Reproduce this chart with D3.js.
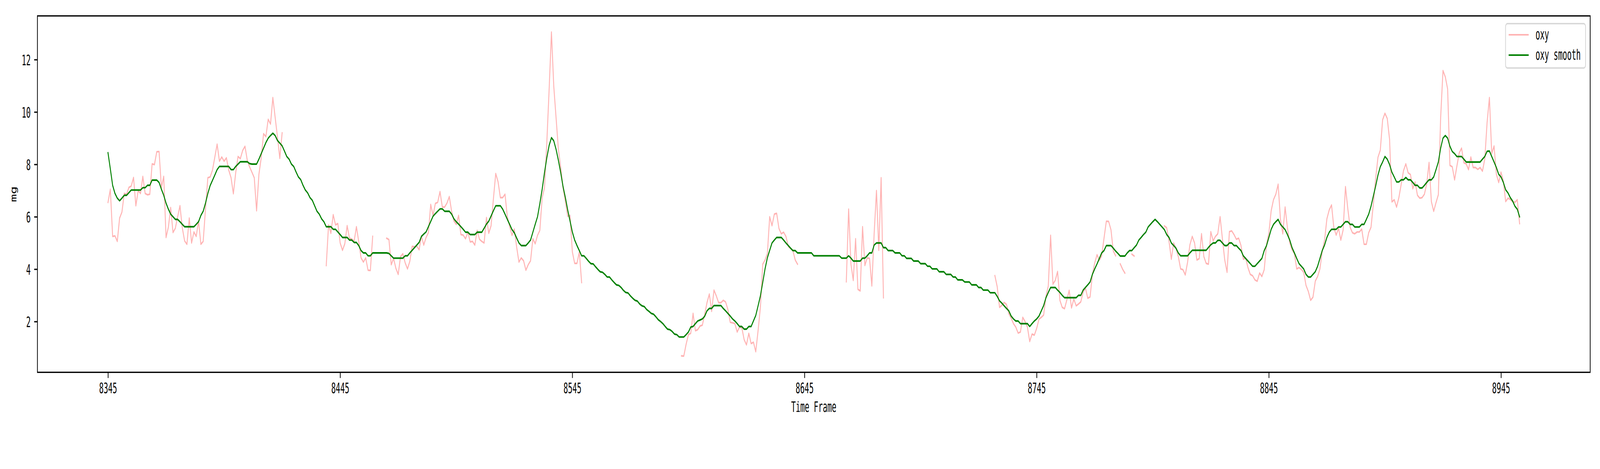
<!DOCTYPE html>
<html>
<head>
<meta charset="utf-8">
<script src="https://cdn.jsdelivr.net/npm/d3@7"></script>
<style>
  html, body { margin: 0; padding: 0; background: #ffffff; width: 100%; height: 100%; overflow: hidden; }
  svg { display: block; width: 100vw; height: 100vh; }
</style>
</head>
<body>
<svg id="chart" viewBox="0 0 7200 1200" preserveAspectRatio="none"></svg>
<script>
// ---------------- data ----------------
const frameStart = 8345;           // first time frame
const seriesNames = ["oxy", "oxy smooth"];
const xTickValues = [8345, 8445, 8545, 8645, 8745, 8845, 8945];
const yTickValues = [2, 4, 6, 8, 10, 12];
const yLabel = "mg";
const xLabel = "Time Frame";

// raw oxygen reading, one value per frame (null = missing)
const oxy = [
  /*8345*/ 6.55,7.05,5.25,5.27,5.06,5.95,6.18,6.89,6.86,7.12,
  /*8355*/ 7.17,7.5,6.42,7.0,6.89,7.54,6.89,6.84,6.86,8.02,
  /*8365*/ 7.99,8.48,8.49,7.1,7.54,5.21,5.6,6.35,5.4,5.56,
  /*8375*/ 6.0,6.42,5.58,5.08,4.95,5.95,5.0,5.42,5.25,5.84,
  /*8385*/ 4.95,5.06,6.31,7.49,7.52,7.78,8.27,8.77,8.12,8.28,
  /*8395*/ 8.12,8.25,7.78,7.49,6.88,7.68,8.3,8.22,8.53,8.69,
  /*8405*/ 8.15,7.9,7.7,7.49,6.23,7.62,8.25,9.17,9.06,9.72,
  /*8415*/ 9.54,10.55,9.79,9.04,8.23,9.2,null,null,null,null,
  /*8425*/ null,null,null,null,null,null,null,null,null,null,
  /*8435*/ null,null,null,null,4.14,5.69,5.37,6.08,5.69,5.74,
  /*8445*/ 5.0,4.72,4.97,5.66,5.18,5.15,5.06,5.62,5.05,4.43,
  /*8455*/ 4.27,4.43,3.96,3.95,5.25,null,null,null,null,null,
  /*8465*/ 5.18,5.13,4.17,4.41,4.03,3.8,4.48,4.59,4.24,4.01,
  /*8475*/ 4.3,4.87,4.85,4.88,4.74,5.27,4.92,5.21,5.39,6.47,
  /*8485*/ 6.05,6.51,6.55,6.96,6.37,6.37,6.52,6.77,6.21,5.84,
  /*8495*/ 5.71,6.05,5.32,5.3,5.16,5.42,5.04,5.06,4.92,5.48,
  /*8505*/ 5.14,5.06,5.0,5.97,5.37,5.66,6.68,7.65,7.34,6.73,
  /*8515*/ 6.73,6.86,6.0,5.63,5.29,5.53,4.85,4.27,4.43,4.32,
  /*8525*/ 3.96,4.17,4.32,5.16,4.97,5.29,5.48,6.73,7.1,8.83,
  /*8535*/ 10.85,13.05,10.98,9.77,8.57,7.88,7.1,6.58,6.02,6.05,
  /*8545*/ 4.66,4.22,4.22,4.66,3.49,null,null,null,null,null,
  /*8555*/ null,null,null,null,null,null,null,null,null,null,
  /*8565*/ null,null,null,null,null,null,null,null,null,null,
  /*8575*/ null,null,null,null,null,null,null,null,null,null,
  /*8585*/ null,null,null,null,null,null,null,0.69,0.68,1.13,
  /*8595*/ 1.5,1.55,2.31,1.65,1.69,1.83,1.86,2.28,2.72,3.05,
  /*8605*/ 2.39,3.2,2.98,2.72,2.72,2.81,2.75,2.46,1.97,1.95,
  /*8615*/ 1.92,1.6,1.79,1.76,1.31,1.11,1.55,1.16,1.21,0.85,
  /*8625*/ 1.65,2.54,4.19,4.35,4.59,6.0,5.66,6.1,6.13,5.55,
  /*8635*/ 5.35,5.41,5.25,4.87,4.79,4.7,4.35,4.19,null,null,
  /*8645*/ null,null,null,null,null,null,null,null,null,null,
  /*8655*/ null,null,null,null,null,null,null,null,3.52,6.29,
  /*8665*/ 4.19,3.57,5.16,3.23,3.17,5.62,4.14,4.43,4.41,3.36,
  /*8675*/ 5.37,7.0,4.72,7.49,2.91,null,null,null,null,null,
  /*8685*/ null,null,null,null,null,null,null,null,null,null,
  /*8695*/ null,null,null,null,null,null,null,null,null,null,
  /*8705*/ null,null,null,null,null,null,null,null,null,null,
  /*8715*/ null,null,null,null,null,null,null,null,null,null,
  /*8725*/ null,null,3.75,3.33,2.54,2.62,2.73,2.65,2.3,2.13,
  /*8735*/ 1.92,1.79,1.56,1.6,2.16,2.0,1.79,1.24,1.52,1.48,
  /*8745*/ 1.74,2.09,2.16,2.25,2.96,3.36,5.29,3.43,3.57,3.91,
  /*8755*/ 2.81,2.54,2.49,2.83,3.19,2.52,2.86,2.6,2.67,2.75,
  /*8765*/ 3.12,3.28,2.89,2.94,3.8,4.24,4.55,4.34,4.51,5.18,
  /*8775*/ 5.83,5.82,5.5,4.69,4.51,null,4.2,4.0,3.85,null,
  /*8785*/ null,4.57,4.5,null,null,null,null,null,null,null,
  /*8795*/ null,null,null,null,null,5.65,5.58,5.06,4.38,5.0,
  /*8805*/ 4.79,4.48,4.01,3.98,3.78,4.27,4.93,5.25,5.0,4.35,
  /*8815*/ 4.4,5.35,4.48,4.22,4.19,5.43,5.08,5.25,5.35,6.0,
  /*8825*/ 5.16,4.35,3.88,5.43,5.46,5.32,5.14,5.18,4.9,4.38,
  /*8835*/ 4.43,4.06,3.8,3.75,3.59,3.54,3.85,3.72,3.98,4.95,
  /*8845*/ 5.37,6.23,6.65,6.86,7.24,5.9,5.35,6.37,5.58,5.0,
  /*8855*/ 4.74,4.59,4.01,4.06,3.99,3.88,3.38,3.15,2.81,2.93,
  /*8865*/ 3.54,3.72,4.01,4.69,5.11,5.92,6.26,6.45,5.58,5.3,
  /*8875*/ 5.56,5.11,5.5,7.15,6.31,5.6,5.39,5.35,5.42,5.42,
  /*8885*/ 5.53,4.95,4.95,5.39,5.6,6.47,7.47,8.27,8.54,9.7,
  /*8895*/ 9.95,9.75,8.95,6.57,6.65,6.37,6.73,7.24,7.76,8.02,
  /*8905*/ 7.68,7.61,7.07,7.33,6.82,6.71,6.73,6.86,7.26,8.07,
  /*8915*/ 6.58,6.21,6.54,6.84,9.8,11.58,11.34,10.88,7.96,7.91,
  /*8925*/ 7.41,7.94,8.44,8.62,8.06,8.02,7.8,8.28,7.88,7.88,
  /*8935*/ 7.81,7.88,7.74,8.2,9.6,10.55,8.41,8.7,7.62,7.31,
  /*8945*/ 7.7,7.36,6.58,6.71,6.66,6.58,6.55,6.65,5.74
];

// smoothed oxygen, one value per frame
const oxySmooth = [
  /*8345*/ 8.44,7.83,7.2,6.89,6.71,6.61,6.71,6.82,6.82,6.92,
  /*8355*/ 7.02,7.02,7.02,7.02,7.02,7.11,7.11,7.2,7.2,7.4,
  /*8365*/ 7.4,7.4,7.31,7.05,6.82,6.52,6.29,6.1,6.0,5.9,
  /*8375*/ 5.9,5.81,5.71,5.62,5.62,5.62,5.62,5.62,5.71,5.81,
  /*8385*/ 6.05,6.21,6.52,6.89,7.19,7.39,7.59,7.8,7.92,7.92,
  /*8395*/ 7.92,7.92,7.92,7.8,7.8,7.92,8.01,8.1,8.1,8.1,
  /*8405*/ 8.1,8.03,8.01,8.01,8.01,8.2,8.41,8.62,8.83,9.0,
  /*8415*/ 9.1,9.19,9.1,8.91,8.81,8.71,8.51,8.3,8.2,8.01,
  /*8425*/ 7.92,7.71,7.52,7.42,7.2,7.02,6.91,6.73,6.63,6.42,
  /*8435*/ 6.21,6.1,5.92,5.81,5.62,5.62,5.62,5.52,5.52,5.42,
  /*8445*/ 5.32,5.21,5.21,5.21,5.11,5.11,5.02,5.02,4.9,4.71,
  /*8455*/ 4.62,4.62,4.51,4.51,4.62,4.62,4.62,4.62,4.62,4.62,
  /*8465*/ 4.62,4.6,4.51,4.42,4.42,4.42,4.42,4.42,4.51,4.51,
  /*8475*/ 4.62,4.72,4.82,4.92,5.02,5.25,5.34,5.42,5.62,5.82,
  /*8485*/ 6.02,6.12,6.21,6.3,6.3,6.21,6.21,6.21,6.1,5.92,
  /*8495*/ 5.81,5.72,5.62,5.52,5.41,5.41,5.32,5.32,5.32,5.41,
  /*8505*/ 5.41,5.41,5.56,5.72,5.83,6.03,6.23,6.42,6.42,6.42,
  /*8515*/ 6.29,6.1,5.9,5.71,5.51,5.39,5.19,5.0,4.9,4.9,
  /*8525*/ 4.9,5.0,5.11,5.41,5.71,6.0,6.5,7.05,7.68,8.25,
  /*8535*/ 8.72,9.02,8.9,8.57,8.15,7.68,7.15,6.73,6.26,5.84,
  /*8545*/ 5.42,5.11,4.9,4.71,4.51,4.51,4.41,4.3,4.21,4.2,
  /*8555*/ 4.09,3.99,3.9,3.88,3.8,3.7,3.7,3.59,3.49,3.4,
  /*8565*/ 3.38,3.3,3.19,3.11,3.09,2.98,2.89,2.81,2.78,2.67,
  /*8575*/ 2.6,2.57,2.46,2.39,2.31,2.28,2.18,2.07,2.0,1.92,
  /*8585*/ 1.81,1.71,1.69,1.62,1.52,1.5,1.41,1.41,1.41,1.5,
  /*8595*/ 1.6,1.79,1.81,1.92,2.02,2.06,2.1,2.2,2.41,2.5,
  /*8605*/ 2.5,2.61,2.61,2.61,2.61,2.5,2.41,2.31,2.21,2.1,
  /*8615*/ 2.02,1.92,1.81,1.81,1.71,1.71,1.81,1.81,2.02,2.23,
  /*8625*/ 2.6,2.98,3.49,4.01,4.43,4.72,5.0,5.11,5.21,5.21,
  /*8635*/ 5.21,5.11,5.0,4.9,4.8,4.71,4.71,4.62,4.62,4.62,
  /*8645*/ 4.62,4.62,4.62,4.62,4.51,4.51,4.51,4.51,4.51,4.51,
  /*8655*/ 4.51,4.51,4.51,4.51,4.51,4.51,4.42,4.42,4.42,4.51,
  /*8665*/ 4.42,4.31,4.31,4.31,4.31,4.42,4.42,4.51,4.62,4.62,
  /*8675*/ 4.92,5.0,5.0,5.0,4.82,4.82,4.71,4.71,4.71,4.62,
  /*8685*/ 4.62,4.62,4.51,4.51,4.41,4.41,4.41,4.31,4.31,4.31,
  /*8695*/ 4.21,4.21,4.21,4.11,4.11,4.01,4.01,4.01,3.9,3.9,
  /*8705*/ 3.9,3.8,3.8,3.8,3.7,3.7,3.59,3.59,3.59,3.51,
  /*8715*/ 3.51,3.51,3.4,3.4,3.4,3.3,3.3,3.2,3.2,3.2,
  /*8725*/ 3.1,3.1,3.1,2.96,2.79,2.7,2.6,2.5,2.41,2.21,
  /*8735*/ 2.1,2.02,2.02,1.92,1.92,1.92,1.92,1.81,1.92,2.02,
  /*8745*/ 2.1,2.21,2.41,2.61,2.91,3.11,3.3,3.3,3.3,3.2,
  /*8755*/ 3.11,3.0,2.91,2.91,2.91,2.91,2.91,2.91,3.0,3.0,
  /*8765*/ 3.2,3.3,3.4,3.51,3.8,4.01,4.2,4.41,4.62,4.71,
  /*8775*/ 4.9,4.9,4.9,4.8,4.69,4.6,4.5,4.5,4.5,4.62,
  /*8785*/ 4.71,4.71,4.82,4.92,5.11,5.21,5.32,5.41,5.61,5.71,
  /*8795*/ 5.81,5.9,5.81,5.71,5.61,5.51,5.32,5.21,5.0,4.9,
  /*8805*/ 4.8,4.62,4.51,4.51,4.51,4.51,4.62,4.72,4.72,4.72,
  /*8815*/ 4.72,4.72,4.72,4.72,4.83,4.93,5.0,5.0,5.1,5.1,
  /*8825*/ 5.0,4.9,4.9,5.0,5.0,4.9,4.9,4.8,4.71,4.51,
  /*8835*/ 4.41,4.31,4.21,4.11,4.11,4.21,4.31,4.41,4.71,4.9,
  /*8845*/ 5.21,5.52,5.71,5.81,5.9,5.71,5.61,5.51,5.32,5.11,
  /*8855*/ 4.82,4.62,4.41,4.21,4.11,4.01,3.8,3.7,3.7,3.8,
  /*8865*/ 3.9,4.11,4.41,4.71,4.92,5.21,5.41,5.52,5.52,5.52,
  /*8875*/ 5.61,5.61,5.71,5.81,5.81,5.71,5.71,5.61,5.61,5.61,
  /*8885*/ 5.71,5.71,5.9,6.1,6.4,6.79,7.17,7.59,7.91,8.09,
  /*8895*/ 8.3,8.2,7.99,7.7,7.52,7.33,7.33,7.41,7.41,7.5,
  /*8905*/ 7.41,7.41,7.31,7.2,7.2,7.1,7.1,7.2,7.31,7.41,
  /*8915*/ 7.41,7.52,7.8,8.09,8.62,9.0,9.1,9.0,8.69,8.49,
  /*8925*/ 8.41,8.3,8.3,8.3,8.2,8.09,8.09,8.09,8.09,8.09,
  /*8935*/ 8.09,8.09,8.2,8.3,8.5,8.51,8.3,8.09,7.88,7.62,
  /*8945*/ 7.52,7.31,7.03,6.91,6.73,6.6,6.4,6.29,6.0
];

// ---------------- layout ----------------
const W = 7200, H = 1200;
const plot = { left: 168.4, right: 7155.8, top: 40.7, bottom: 952.6 };
const FONT = "'DejaVu Sans Mono', 'Liberation Mono', monospace";
const FS = 38;          // font size px
const CH = 20.3;        // char advance px (half-width CJK style)
const LW = 4.17;        // line width px
const SPINE = 3.3;
const TICK = 14.6;
const colors = { oxy: "#ffb3b3", smooth: "#008000" };

const frames = d3.range(frameStart, frameStart + oxySmooth.length);

const svg = d3.select("#chart");
svg.append("rect").attr("width", W).attr("height", H).attr("fill", "#fff");

// scales with matplotlib-like 5% margins
const xExt = d3.extent(frames);
const xPad = (xExt[1] - xExt[0]) * 0.05;
const x = d3.scaleLinear().domain([xExt[0] - xPad, xExt[1] + xPad]).range([plot.left, plot.right]);

const allY = oxy.concat(oxySmooth).filter(v => v != null);
const yExt = d3.extent(allY);
const yPad = (yExt[1] - yExt[0]) * 0.05;
const y = d3.scaleLinear().domain([yExt[0] - yPad, yExt[1] + yPad]).range([plot.bottom, plot.top]);

// clip
svg.append("defs").append("clipPath").attr("id", "clip")
  .append("rect").attr("x", plot.left).attr("y", plot.top)
  .attr("width", plot.right - plot.left).attr("height", plot.bottom - plot.top);

const line = d3.line()
  .defined(d => d.v != null)
  .x(d => x(d.f))
  .y(d => y(d.v));

const g = svg.append("g").attr("clip-path", "url(#clip)");
g.append("path")
  .datum(oxy.map((v, i) => ({ f: frames[i], v })))
  .attr("d", line)
  .attr("fill", "none")
  .attr("stroke", colors.oxy)
  .attr("stroke-width", LW)
  .attr("stroke-linejoin", "round")
  .attr("stroke-linecap", "square");
g.append("path")
  .datum(oxySmooth.map((v, i) => ({ f: frames[i], v })))
  .attr("d", line)
  .attr("fill", "none")
  .attr("stroke", colors.smooth)
  .attr("stroke-width", LW)
  .attr("stroke-linejoin", "round")
  .attr("stroke-linecap", "square");

// spines
svg.append("rect")
  .attr("x", plot.left).attr("y", plot.top)
  .attr("width", plot.right - plot.left).attr("height", plot.bottom - plot.top)
  .attr("fill", "none").attr("stroke", "#000").attr("stroke-width", SPINE);

function addText(sel, str, attrs) {
  const t = sel.append("text").text(str)
    .attr("font-family", FONT).attr("font-size", FS).attr("fill", "#000")
    .attr("textLength", str.length * CH).attr("lengthAdjust", "spacingAndGlyphs");
  for (const k in attrs) t.attr(k, attrs[k]);
  return t;
}

// x axis (ticks via d3 axis)
const xAxis = d3.axisBottom(x).tickValues(xTickValues).tickSize(TICK).tickFormat(d3.format("d"));
const gx = svg.append("g").attr("transform", `translate(0,${plot.bottom})`).call(xAxis);
gx.select(".domain").remove();
gx.selectAll(".tick line").attr("stroke", "#000").attr("stroke-width", SPINE);
gx.selectAll(".tick text").each(function(d) {
  const s = String(d);
  d3.select(this).attr("y", 0).attr("dy", null)
    .attr("transform", `translate(0,${1006 - plot.bottom})`)
    .attr("font-family", FONT).attr("font-size", FS).attr("fill", "#000")
    .attr("textLength", s.length * CH).attr("lengthAdjust", "spacingAndGlyphs");
});

// y axis
const yAxis = d3.axisLeft(y).tickValues(yTickValues).tickSize(TICK).tickFormat(d3.format("d"));
const gy = svg.append("g").attr("transform", `translate(${plot.left},0)`).call(yAxis);
gy.select(".domain").remove();
gy.selectAll(".tick line").attr("stroke", "#000").attr("stroke-width", SPINE);
gy.selectAll(".tick text").each(function(d) {
  const s = String(d);
  d3.select(this).attr("x", 138 - plot.left).attr("dy", null).attr("y", 14)
    .attr("text-anchor", "end")
    .attr("font-family", FONT).attr("font-size", FS).attr("fill", "#000")
    .attr("textLength", s.length * CH).attr("lengthAdjust", "spacingAndGlyphs");
});

// axis labels
addText(svg, xLabel, { x: (plot.left + plot.right) / 2, y: 1054, "text-anchor": "middle" });
addText(svg, yLabel, { "text-anchor": "middle", transform: `translate(73,${(plot.top + plot.bottom) / 2}) rotate(-90)` });

// legend
const leg = svg.append("g");
leg.append("rect")
  .attr("x", 6775).attr("y", 60.5).attr("width", 360).attr("height", 113.5)
  .attr("rx", 8).attr("ry", 8)
  .attr("fill", "#fff").attr("fill-opacity", 0.8)
  .attr("stroke", "#d6d6d6").attr("stroke-width", SPINE);
const legItems = [
  { name: seriesNames[0], color: colors.oxy, ly: 89, ty: 101 },
  { name: seriesNames[1], color: colors.smooth, ly: 141, ty: 153 }
];
legItems.forEach(it => {
  leg.append("line").attr("x1", 6791).attr("x2", 6877).attr("y1", it.ly).attr("y2", it.ly)
    .attr("stroke", it.color).attr("stroke-width", LW).attr("stroke-linecap", "square");
  addText(leg, it.name, { x: 6910, y: it.ty });
});
</script>
</body>
</html>
